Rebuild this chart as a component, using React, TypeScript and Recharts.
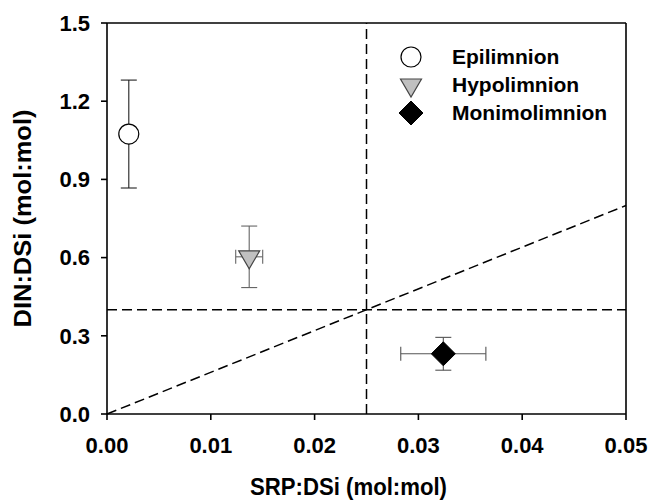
import React from "react"
import {
  ScatterChart,
  Scatter,
  XAxis,
  YAxis,
  ErrorBar,
  ReferenceLine,
  Legend,
  Label,
} from "recharts"

const groups = ["Epilimnion", "Hypolimnion", "Monimolimnion"]
const srpDsi = [0.0021, 0.0137, 0.0324]
const dinDsi = [1.074, 0.603, 0.231]
const srpErr = [0, 0.0013, 0.0041]
const dinErr = [0.207, 0.118, 0.063]

const xTicks = [0, 0.01, 0.02, 0.03, 0.04, 0.05]
const yTicks = [0, 0.3, 0.6, 0.9, 1.2, 1.5]

const font = "'Liberation Sans', Arial, sans-serif"

const series = groups.map((name, i) => ({
  name,
  data: [{ x: srpDsi[i], y: dinDsi[i], ex: srpErr[i], ey: dinErr[i] }],
}))

const styles = [
  { kind: "circle", bar: "#222" },
  { kind: "triangle", bar: "#666" },
  { kind: "diamond", bar: "#555" },
]

function marker(kind: string, cx: number, cy: number) {
  if (kind === "circle") {
    return <circle cx={cx} cy={cy} r={10} fill="#fff" stroke="#000" strokeWidth={1.2} />
  }
  if (kind === "triangle") {
    const pts = `${cx - 10.5},${cy - 6} ${cx + 10.5},${cy - 6} ${cx},${cy + 12}`
    return <polygon points={pts} fill="#c0c0c0" stroke="#444" strokeWidth={1.2} />
  }
  const pts = `${cx},${cy - 12} ${cx + 12},${cy} ${cx},${cy + 12} ${cx - 12},${cy}`
  return <polygon points={pts} fill="#000" stroke="#000" />
}

const renderShape = (kind: string) => (props: any) => (
  <g>{marker(kind, props.cx, props.cy)}</g>
)

function LegendBox() {
  return (
    <div style={{ position: "relative", width: 240, height: 90, fontFamily: font }}>
      {groups.map((name, i) => (
        <div
          key={name}
          style={{
            position: "absolute",
            left: 0,
            top: i * 28,
            height: 28,
            display: "flex",
            alignItems: "center",
          }}
        >
          <svg width={28} height={28} style={{ display: "block" }}>
            {marker(styles[i].kind, 14, 14)}
          </svg>
          <span style={{ marginLeft: 27, fontSize: 21, fontWeight: "bold", color: "#000" }}>{name}</span>
        </div>
      ))}
    </div>
  )
}

const XTitle = (props: any) => {
  const vb = props.viewBox
  return (
    <text
      x={vb.x + vb.width / 2 - 18}
      y={vb.y + 73}
      textAnchor="middle"
      dominantBaseline="central"
      fontFamily={font}
      fontWeight="bold"
      fontSize={23}
      textLength={197}
      lengthAdjust="spacingAndGlyphs"
      fill="#000"
    >
      SRP:DSi (mol:mol)
    </text>
  )
}

const YTitle = (props: any) => {
  const vb = props.viewBox
  const x = vb.x + 23
  const y = vb.y + vb.height / 2
  return (
    <text
      x={x}
      y={y}
      transform={`rotate(-90, ${x}, ${y})`}
      textAnchor="middle"
      dominantBaseline="central"
      fontFamily={font}
      fontWeight="bold"
      fontSize={23}
      textLength={218}
      lengthAdjust="spacingAndGlyphs"
      fill="#000"
    >
      DIN:DSi (mol:mol)
    </text>
  )
}

export default function App() {
  const tickStyle = { fill: "#000", fontSize: 22, fontWeight: "bold", fontFamily: font }
  return (
    <div style={{ position: "absolute", left: 0, top: 0, width: 651, height: 502, background: "#fff" }}>
      <ScatterChart width={651} height={502} margin={{ top: 23, right: 25, bottom: 0, left: 0 }}>
        <XAxis
          type="number"
          dataKey="x"
          domain={[0, 0.05]}
          ticks={xTicks}
          tickFormatter={(v: number) => v.toFixed(2)}
          tick={tickStyle}
          tickSize={6}
          tickMargin={17}
          height={88}
          stroke="#000"
          strokeWidth={1.6}
          allowDataOverflow
        >
          <Label content={XTitle} />
        </XAxis>
        <YAxis
          type="number"
          dataKey="y"
          domain={[0, 1.5]}
          ticks={yTicks}
          tickFormatter={(v: number) => v.toFixed(1)}
          tick={tickStyle}
          tickSize={6}
          tickMargin={11}
          width={107}
          stroke="#000"
          strokeWidth={1.6}
          allowDataOverflow
        >
          <Label content={YTitle} />
        </YAxis>
        <ReferenceLine y={1.5} stroke="#000" strokeWidth={1.6} />
        <ReferenceLine x={0.05} stroke="#000" strokeWidth={1.6} />
        <ReferenceLine x={0.025} stroke="#000" strokeWidth={1.5} strokeDasharray="10 5" />
        <ReferenceLine y={0.4} stroke="#000" strokeWidth={1.5} strokeDasharray="10 5" />
        <ReferenceLine
          segment={[
            { x: 0, y: 0 },
            { x: 0.05, y: 0.8 },
          ]}
          stroke="#000"
          strokeWidth={1.5}
          strokeDasharray="10 5"
        />
        {series.map((s, i) => (
          <Scatter
            key={s.name}
            name={s.name}
            data={s.data}
            shape={renderShape(styles[i].kind)}
            isAnimationActive={false}
          >
            <ErrorBar dataKey="ey" direction="y" width={8} stroke={styles[i].bar} strokeWidth={1.1} />
            <ErrorBar dataKey="ex" direction="x" width={7} stroke={styles[i].bar} strokeWidth={1.1} />
          </Scatter>
        ))}
        <Legend
          layout="horizontal"
          verticalAlign="middle"
          align="center"
          content={() => <LegendBox />}
          wrapperStyle={{ position: "absolute", left: 397, top: 43, width: 240 }}
        />
      </ScatterChart>
    </div>
  )
}
